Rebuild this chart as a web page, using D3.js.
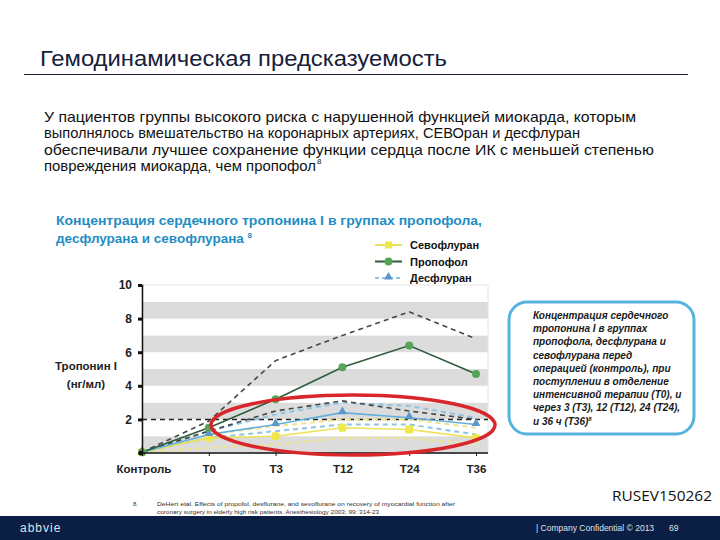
<!DOCTYPE html>
<html><head><meta charset="utf-8">
<script src="https://cdn.jsdelivr.net/npm/d3@7"></script>
<style>body{margin:0;background:#fff}svg{display:block}</style>
</head><body><svg id="c" width="720" height="540"></svg>
<script>
const categories = ["Контроль","T0","T3","T12","T24","T36"];
const propofol      = [0.05, 1.5, 3.2, 5.1, 6.4, 4.7];
const propofolHigh  = [0.05, 1.9, 5.5, 7.0, 8.4, 6.8];
const propofolLow   = [0.05, 1.3, 2.5, 3.1, 2.5, 2.0];
const desflurane    = [0.05, 1.1, 1.7, 2.4, 2.1, 1.7];
const desfluraneHigh= [0.05, 1.3, 2.3, 3.0, 2.8, 2.1];
const desfluraneLow = [0.05, 0.9, 1.3, 1.7, 1.7, 1.1];
const sevoflurane   = [0.05, 0.9, 1.0, 1.5, 1.4, 0.9];
const sevofluraneHigh=[0.05, 1.1, 1.6, 2.0, 2.0, 1.5];
const sevofluraneLow= [0.05, 0.3, 0.5, 0.9, 0.9, 0.5];
const refLevel = 2;
const yTicks = [2,4,6,8,10];
const legendNames = ["Севофлуран","Пропофол","Десфлуран"];

const svg = d3.select("#c");
const F = "'Liberation Sans', Arial, sans-serif";

// Title
svg.append("text").attr("x",40).attr("y",66).attr("font-family",F).attr("font-size",22)
  .attr("fill","#16203a").attr("textLength",407).attr("lengthAdjust","spacingAndGlyphs").text("Гемодинамическая предсказуемость");
svg.append("line").attr("x1",24).attr("x2",688).attr("y1",74.5).attr("y2",74.5).attr("stroke","#16203a").attr("stroke-width",1);

// Paragraph
const para = ["У пациентов группы высокого риска с нарушенной функцией миокарда, которым",
 "выполнялось вмешательство на коронарных артериях, СЕВОран и десфлуран",
 "обеспечивали лучшее сохранение функции сердца после ИК с меньшей степенью",
 "повреждения миокарда, чем пропофол"];
const paraW = [592, 536, 610, 0];
para.forEach((t,i)=>{
  const tx = svg.append("text").attr("x",44).attr("y",122+i*16.3).attr("font-family",F)
    .attr("font-size",15).attr("fill","#111").text(t);
  if(paraW[i]) tx.attr("textLength",paraW[i]).attr("lengthAdjust","spacingAndGlyphs");
  else { tx.attr("textLength",272).attr("lengthAdjust","spacingAndGlyphs");
    svg.append("text").attr("x",317).attr("y",164).attr("font-family",F).attr("font-size",8).attr("fill","#111").text("8"); }
});

// Chart title
const ct = svg.append("text").attr("font-family",F).attr("font-size",13.5).attr("font-weight","bold").attr("fill","#1f8dc4");
ct.append("tspan").attr("x",56).attr("y",225).attr("textLength",426).attr("lengthAdjust","spacingAndGlyphs").text("Концентрация сердечного тропонина I в группах пропофола,");
ct.append("tspan").attr("x",56).attr("y",243).text("десфлурана и севофлурана ");
ct.append("tspan").attr("dy",-5).attr("font-size",8).text("8");

// Scales
const x = d3.scalePoint().domain(categories).range([142,476]);
const y = d3.scaleLinear().domain([0,10]).range([453,285]);
const plotR = 488;

// bands
const g = svg.append("g");
d3.range(0,10).forEach(v=>{
  g.append("rect").attr("x",142).attr("width",plotR-142).attr("y",y(v+1)).attr("height",y(v)-y(v+1))
   .attr("fill", v%2===0 ? "#dcdcdc" : "#ffffff");
});
g.append("rect").attr("x",142).attr("width",plotR-142).attr("y",y(10)).attr("height",y(0)-y(10)).attr("fill","none").attr("stroke","#e6e6e6");

const line = d3.line().x((d,i)=>x(categories[i])).y(d=>y(d));
function dashed(data,color,w,dash){
  g.append("path").attr("d",line(data)).attr("fill","none").attr("stroke",color).attr("stroke-width",w).attr("stroke-dasharray",dash);
}
// reference line
g.append("line").attr("x1",142).attr("x2",plotR).attr("y1",y(refLevel)).attr("y2",y(refLevel))
  .attr("stroke","#222").attr("stroke-width",1.5).attr("stroke-dasharray","5,4");

dashed(sevofluraneHigh,"#efe48c",2,"5,4");
dashed(sevofluraneLow,"#efe48c",2,"5,4");
dashed(desfluraneHigh,"#8fc3e4",2,"5,4");
dashed(desfluraneLow,"#8fc3e4",2,"5,4");
dashed(propofolHigh,"#3f4a47",1.6,"5,4");
dashed(propofolLow,"#3f4a47",1.6,"5,4");

function solid(data,color,w){
  g.append("path").attr("d",line(data)).attr("fill","none").attr("stroke",color).attr("stroke-width",w);
}
solid(sevoflurane,"#ece25a",1.6);
solid(desflurane,"#62aede",1.6);
solid(propofol,"#2f5b3c",1.6);

// markers
sevoflurane.forEach((v,i)=>{ g.append("rect").attr("x",x(categories[i])-4).attr("y",y(v)-4).attr("width",8).attr("height",8).attr("rx",2).attr("fill","#eee84a"); });
desflurane.forEach((v,i)=>{ g.append("path").attr("d",d3.symbol(d3.symbolTriangle,34)()).attr("transform",`translate(${x(categories[i])},${y(v)-1})`).attr("fill","#5b99cc"); });
propofol.forEach((v,i)=>{ g.append("circle").attr("cx",x(categories[i])).attr("cy",y(v)).attr("r",4).attr("fill","#55a558"); });

// axes
const yAx = svg.append("g").attr("transform","translate(142,0)")
  .call(d3.axisLeft(y).tickValues(yTicks).tickSize(4).tickFormat(d3.format("d")));
yAx.select(".domain").attr("stroke","#111").attr("stroke-width",1.5);
yAx.selectAll(".tick line").attr("stroke","#111").attr("stroke-width",3);
yAx.selectAll("text").attr("font-family",F).attr("font-size",12).attr("font-weight","bold").attr("fill","#222").attr("x",-10);
svg.append("rect").attr("x",139).attr("y",451).attr("width",4).attr("height",4).attr("fill","#111");

const xAx = svg.append("g").attr("transform","translate(0,453)")
  .call(d3.axisBottom(x).tickSize(3).tickSizeOuter(0));
xAx.select(".domain").attr("stroke","#111").attr("stroke-width",1.5).attr("d","M142,0H"+plotR);
xAx.selectAll(".tick line").attr("stroke","#111");
xAx.selectAll("text").attr("font-family",F).attr("font-size",11.5).attr("font-weight","bold").attr("fill","#222").attr("dy","1.2em");
xAx.selectAll(".tick").filter(d=>d==="Контроль").select("text").attr("text-anchor","start").attr("dx",-26);

// y label
svg.append("text").attr("x",86).attr("y",370).attr("text-anchor","middle").attr("font-family",F).attr("font-size",11.5).attr("font-weight","bold").attr("fill","#222").text("Тропонин I");
svg.append("text").attr("x",86).attr("y",388).attr("text-anchor","middle").attr("font-family",F).attr("font-size",11.5).attr("font-weight","bold").attr("fill","#222").text("(нг/мл)");

// legend
const legColors = [["#ece25a","#eee84a","sq",null],["#2f5b3c","#55a558","ci",null],["#8fc3e4","#5b99cc","tr","4,3"]];
legendNames.forEach((n,i)=>{
  const ly = 245+i*16.5;
  const l = svg.append("line").attr("x1",375).attr("x2",402).attr("y1",ly).attr("y2",ly).attr("stroke",legColors[i][0]).attr("stroke-width",2);
  if(legColors[i][3]) l.attr("stroke-dasharray",legColors[i][3]);
  if(legColors[i][2]==="sq") svg.append("rect").attr("x",385).attr("y",ly-3.5).attr("width",7).attr("height",7).attr("fill",legColors[i][1]);
  if(legColors[i][2]==="ci") svg.append("circle").attr("cx",388.5).attr("cy",ly).attr("r",4).attr("fill",legColors[i][1]);
  if(legColors[i][2]==="tr") svg.append("path").attr("d",d3.symbol(d3.symbolTriangle,34)()).attr("transform",`translate(388.5,${ly-1})`).attr("fill",legColors[i][1]);
  svg.append("text").attr("x",410).attr("y",ly+4).attr("font-family",F).attr("font-size",11).attr("font-weight","bold").attr("fill","#111").text(n);
});

// red ellipse
svg.append("ellipse").attr("cx",353).attr("cy",425).attr("rx",142).attr("ry",30).attr("fill","none").attr("stroke","#d8262a").attr("stroke-width",3.5);

// callout box
svg.append("rect").attr("x",509).attr("y",302).attr("width",185).attr("height",132).attr("rx",18)
  .attr("fill","#fff").attr("stroke","#56b3de").attr("stroke-width",3);
const box = [" Концентрация сердечного","тропонина I в группах","пропофола, десфлурана и","севофлурана перед","операцией (контроль), при","поступлении в отделение","интенсивной терапии (T0), и","через 3 (T3), 12 (T12), 24 (T24),","и 36 ч (T36)"];
box.forEach((t,i)=>{
  const tx = svg.append("text").attr("x",533).attr("y",319+i*13.2).attr("font-family",F).attr("font-size",10)
    .attr("font-style","italic").attr("font-weight","bold").attr("fill","#1a1a1a").text(t);
  if(i===8) tx.append("tspan").attr("dy",-4).attr("font-size",6).text("8");
});

// footnote
svg.append("text").attr("x",133).attr("y",506).attr("font-family",F).attr("font-size",6).attr("fill","#333").text("8.");
svg.append("text").attr("x",157).attr("y",506).attr("font-family",F).attr("font-size",6).attr("fill","#333")
  .attr("textLength",298).attr("lengthAdjust","spacingAndGlyphs").text("DeHert etal. Effects of propofol, desflurane, and sevoflurane on recovery of myocardial function after");
svg.append("text").attr("x",157).attr("y",514).attr("font-family",F).attr("font-size",6).attr("fill","#333")
  .attr("textLength",222).attr("lengthAdjust","spacingAndGlyphs").text("coronary surgery in elderly high risk patients. Anesthesiology 2003; 99: 314-23");

svg.append("text").attr("x",612).attr("y",501).attr("font-family","'Open Sans', sans-serif").attr("font-size",15).attr("fill","#111")
  .attr("textLength",100).attr("lengthAdjust","spacingAndGlyphs").text("RUSEV150262");

// footer band
svg.append("rect").attr("x",0).attr("y",516).attr("width",720).attr("height",24).attr("fill","#0b1e43");
svg.append("text").attr("x",20).attr("y",532).attr("font-family",F).attr("font-size",12).attr("fill","#dfe3ea").attr("letter-spacing",1).text("abbvie");
svg.append("text").attr("x",536).attr("y",531).attr("font-family",F).attr("font-size",8.5).attr("fill","#dfe3ea").text("| Company Confidential © 2013");
svg.append("text").attr("x",669).attr("y",531).attr("font-family",F).attr("font-size",8.5).attr("fill","#dfe3ea").text("69");
</script></body></html>
